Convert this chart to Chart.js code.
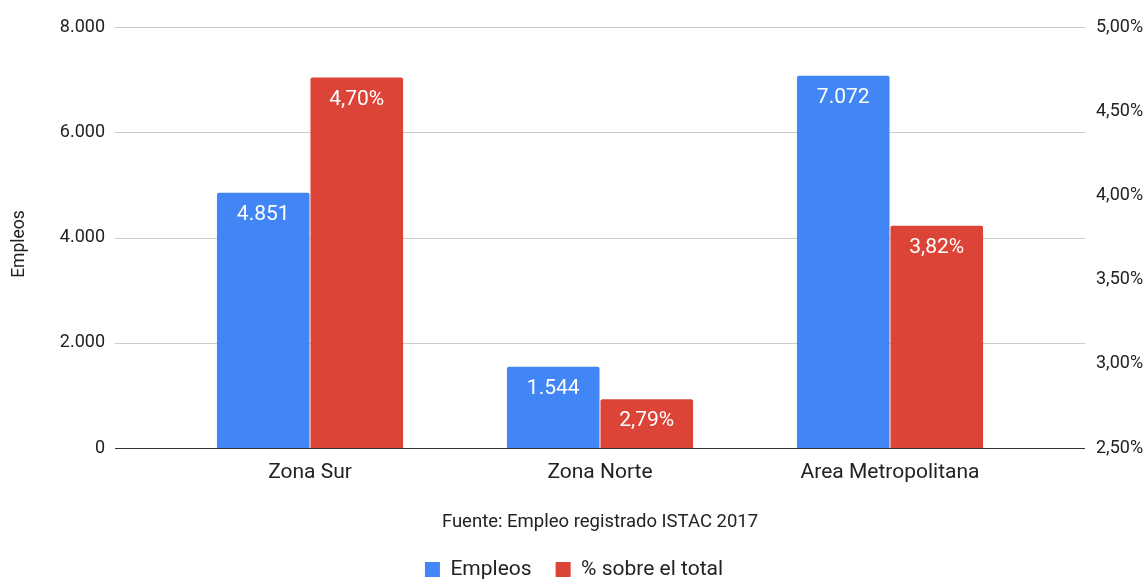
<!DOCTYPE html>
<html><head><meta charset="utf-8">
<script src="https://cdn.jsdelivr.net/npm/chart.js@4/dist/chart.umd.min.js"></script>
<style>html,body{margin:0;padding:0;background:#fff}#wrap{width:1148px;height:580px}</style>
</head><body><div id="wrap"><canvas id="c" width="1148" height="580"></canvas></div>
<script>
const categories = ['Zona Sur', 'Zona Norte', 'Area Metropolitana'];
const empleos = [4851, 1544, 7072];
const porcentaje = [4.70, 2.79, 3.82];
const leftTicks = [0, 2000, 4000, 6000, 8000];
const rightTicks = [2.5, 3.0, 3.5, 4.0, 4.5, 5.0];
const seriesNames = ['Empleos', '% sobre el total'];
const leftAxisTitle = 'Empleos';
const sourceText = 'Fuente: Empleo registrado ISTAC 2017';

const fmtInt = v => String(Math.round(v)).replace(/\B(?=(\d{3})+(?!\d))/g, '.');
const fmtPct = v => Number(v).toFixed(2).replace('.', ',') + '%';

Chart.defaults.font.family = 'Roboto';
Chart.defaults.color = '#222';

const GRID_L = 115, GRID_R = 1085;

const gridPlugin = {
  id: 'wideGrid',
  beforeDatasetsDraw(chart) {
    const ctx = chart.ctx, y = chart.scales.y;
    ctx.save();
    ctx.lineWidth = 1;
    ctx.strokeStyle = '#cccccc';
    leftTicks.forEach(v => {
      if (v === 0) return;
      const py = Math.round(y.getPixelForValue(v)) + 0.5;
      ctx.beginPath(); ctx.moveTo(GRID_L, py); ctx.lineTo(GRID_R, py); ctx.stroke();
    });
    ctx.restore();
  },
  afterDatasetsDraw(chart) {
    const ctx = chart.ctx, y = chart.scales.y;
    ctx.save();
    ctx.lineWidth = 1;
    ctx.strokeStyle = '#333333';
    const py = Math.round(y.getPixelForValue(0)) + 0.5;
    ctx.beginPath(); ctx.moveTo(GRID_L, py); ctx.lineTo(GRID_R, py); ctx.stroke();
    ctx.fillStyle = '#ffffff';
    ctx.font = '21px Roboto';
    ctx.textAlign = 'center';
    ctx.textBaseline = 'middle';
    chart.data.datasets.forEach((ds, di) => {
      const meta = chart.getDatasetMeta(di);
      meta.data.forEach((el, i) => {
        const txt = di === 0 ? fmtInt(ds.data[i]) : fmtPct(ds.data[i]);
        ctx.fillText(txt, el.x, el.y + 22);
      });
    });
    ctx.restore();
  }
};

const fixVPad = s => { s.paddingTop = 10; s.paddingBottom = 10; };

new Chart(document.getElementById('c'), {
  type: 'bar',
  data: {
    labels: categories,
    datasets: [
      { label: seriesNames[0], data: empleos, yAxisID: 'y', backgroundColor: '#4285F4',
        categoryPercentage: 0.645, barPercentage: 0.99, borderRadius: {topLeft: 2, topRight: 2} },
      { label: seriesNames[1], data: porcentaje, yAxisID: 'y2', backgroundColor: '#DB4437',
        categoryPercentage: 0.645, barPercentage: 0.99, borderRadius: {topLeft: 2, topRight: 2} }
    ]
  },
  options: {
    responsive: false,
    animation: false,
    layout: { padding: { top: 27, left: 0, right: 0, bottom: -10 } },
    plugins: {
      tooltip: { enabled: false },
      legend: {
        position: 'bottom',
        labels: { boxWidth: 15, boxHeight: 15, padding: 24, font: { size: 21 }, color: '#222' }
      }
    },
    scales: {
      x: {
        grid: { display: false, drawTicks: false },
        border: { display: false },
        ticks: { font: { size: 21 }, color: '#222', padding: 12 },
        title: { display: true, text: sourceText, font: { size: 18.5 }, color: '#222', padding: { top: 0, bottom: 2 } },
        afterFit: s => { s.height = 87; }
      },
      y: {
        position: 'left',
        min: 0, max: 8000,
        afterBuildTicks: s => { s.ticks = leftTicks.map(v => ({ value: v })); },
        grid: { display: false, drawTicks: false },
        border: { display: false },
        ticks: { padding: 60, font: { size: 18 }, color: '#222', callback: v => fmtInt(v) },
        title: { display: true, text: leftAxisTitle + '   ', font: { size: 17.5 }, color: '#222', padding: { top: 9 } },
        afterFit: s => { s.width = 165; fixVPad(s); }
      },
      y2: {
        position: 'right',
        min: 2.5, max: 5,
        afterBuildTicks: s => { s.ticks = rightTicks.map(v => ({ value: v })); },
        grid: { display: false, drawTicks: false },
        border: { display: false },
        ticks: { padding: 61, font: { size: 18 }, color: '#222', callback: v => fmtPct(v) },
        afterFit: s => { s.width = 113; fixVPad(s); }
      }
    }
  },
  plugins: [gridPlugin]
});
</script></body></html>
